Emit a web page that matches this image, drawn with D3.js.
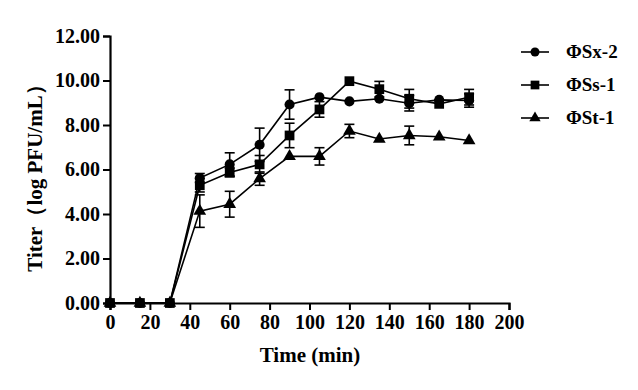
<!DOCTYPE html>
<html>
<head>
<meta charset="utf-8">
<script src="https://cdn.jsdelivr.net/npm/d3@7"></script>
<style>
  body { margin: 0; background: #fff; }
  text { font-family: "Liberation Serif", "Times New Roman", serif; font-weight: bold; }
</style>
</head>
<body>
<svg id="chart" width="638" height="390"></svg>
<script>
// time points (min)
var times = [0, 15, 30, 45, 60, 75, 90, 105, 120, 135, 150, 165, 180];

// titer values, log PFU/mL
var sx2 = [0, 0, 0, 5.62, 6.23, 7.11, 8.92, 9.25, 9.06, 9.18, 8.98, 9.13, 9.1];
var ss1 = [0, 0, 0, 5.29, 5.87, 6.23, 7.53, 8.7, 9.97, 9.61, 9.18, 8.95, 9.25];
var st1 = [0, 0, 0, 4.13, 4.44, 5.59, 6.59, 6.59, 7.73, 7.37, 7.53, 7.47, 7.3];

// error (+/-)
var sx2Err = [0, 0, 0, 0.2, 0.52, 0.75, 0.66, 0.1, 0.1, 0.15, 0.35, 0.1, 0.3];
var ss1Err = [0, 0, 0, 0.3, 0.2, 0.4, 0.55, 0.35, 0.1, 0.35, 0.42, 0.1, 0.35];
var st1Err = [0, 0, 0, 0.73, 0.58, 0.3, 0.1, 0.39, 0.3, 0.1, 0.42, 0.1, 0.1];

var seriesNames = ["ΦSx-2", "ΦSs-1", "ΦSt-1"];
var seriesSymbols = [d3.symbolCircle, d3.symbolSquare, d3.symbolTriangle];
var seriesSizes = [80, 95, 70];

var xTicks = d3.range(0, 201, 20);
var yTicks = d3.range(0, 12.01, 2);

var series = [
  {name: seriesNames[0], vals: sx2, err: sx2Err, sym: seriesSymbols[0], size: seriesSizes[0]},
  {name: seriesNames[1], vals: ss1, err: ss1Err, sym: seriesSymbols[1], size: seriesSizes[1]},
  {name: seriesNames[2], vals: st1, err: st1Err, sym: seriesSymbols[2], size: seriesSizes[2]}
];

var svg = d3.select('#chart');
var x = d3.scaleLinear().domain([0, 200]).range([110, 509]);
var y = d3.scaleLinear().domain([0, 12]).range([303, 36]);

// axes
var xAxis = svg.append('g').attr('transform', 'translate(0,' + y(0) + ')');
xAxis.call(d3.axisBottom(x).tickValues(d3.range(10, 200, 20)).tickSize(4).tickFormat(''));
xAxis.call(d3.axisBottom(x).tickValues(xTicks).tickSize(7).tickPadding(5).tickFormat(d3.format('d')));

var yAxis = svg.append('g').attr('transform', 'translate(' + x(0) + ',0)');
yAxis.call(d3.axisLeft(y).tickValues(d3.range(1, 12, 2)).tickSize(4).tickFormat(''));
yAxis.call(d3.axisLeft(y).tickValues(yTicks).tickSize(7).tickPadding(3).tickFormat(d3.format('.2f')));

svg.selectAll('.domain').attr('stroke', '#000').attr('stroke-width', 2.2);
svg.selectAll('.tick line').attr('stroke', '#000').attr('stroke-width', 2);
svg.selectAll('.tick text').attr('font-size', 20).attr('fill', '#000')
  .style('font-family', '"Liberation Serif", serif').style('font-weight', 'bold');

// axis titles
svg.append('text')
  .attr('x', 310).attr('y', 362)
  .attr('text-anchor', 'middle')
  .attr('font-size', 21)
  .text('Time (min)');

svg.append('text')
  .attr('transform', 'translate(42,173) rotate(-90)')
  .attr('text-anchor', 'middle')
  .attr('font-size', 21)
  .text('Titer（log PFU/mL）');

var line = d3.line()
  .x(function(d, i) { return x(times[i]); })
  .y(function(d) { return y(d); });

var groups = svg.selectAll('g.series')
  .data(series)
  .enter()
  .append('g')
  .attr('class', 'series');

groups.append('path')
  .attr('d', function(d) { return line(d.vals); })
  .attr('fill', 'none')
  .attr('stroke', '#000')
  .attr('stroke-width', 1.6);

// error bars
groups.each(function(s) {
  var g = d3.select(this);
  var pts = s.vals.map(function(v, i) { return {t: times[i], v: v, e: s.err[i]}; })
    .filter(function(p) { return p.e > 0.15; });
  var eb = g.selectAll('g.eb').data(pts).enter().append('g').attr('class', 'eb')
    .attr('stroke', '#000').attr('stroke-width', 1.6);
  eb.append('line')
    .attr('x1', function(p) { return x(p.t); })
    .attr('x2', function(p) { return x(p.t); })
    .attr('y1', function(p) { return y(p.v + p.e); })
    .attr('y2', function(p) { return y(p.v - p.e); });
  [1, -1].forEach(function(sign) {
    eb.append('line')
      .attr('x1', function(p) { return x(p.t) - 5; })
      .attr('x2', function(p) { return x(p.t) + 5; })
      .attr('y1', function(p) { return y(p.v + sign * p.e); })
      .attr('y2', function(p) { return y(p.v + sign * p.e); });
  });
});

groups.each(function(s) {
  d3.select(this).selectAll('path.pt')
    .data(s.vals)
    .enter()
    .append('path')
    .attr('class', 'pt')
    .attr('d', d3.symbol().type(s.sym).size(s.size))
    .attr('transform', function(d, i) { return 'translate(' + x(times[i]) + ',' + y(d) + ')'; })
    .attr('fill', '#000');
});

// legend
var legend = svg.selectAll('g.legend')
  .data(series)
  .enter()
  .append('g')
  .attr('class', 'legend')
  .attr('transform', function(d, i) { return 'translate(521,' + (52 + i * 33) + ')'; });

legend.append('line')
  .attr('x1', 0).attr('x2', 28)
  .attr('stroke', '#000').attr('stroke-width', 1.6);
legend.append('path')
  .attr('d', function(d) { return d3.symbol().type(d.sym).size(d.size * 0.8)(); })
  .attr('transform', 'translate(14,0)')
  .attr('fill', '#000');
legend.append('text')
  .attr('x', 45).attr('y', 6)
  .attr('font-size', 19)
  .text(function(d) { return d.name; });
</script>
</body>
</html>
